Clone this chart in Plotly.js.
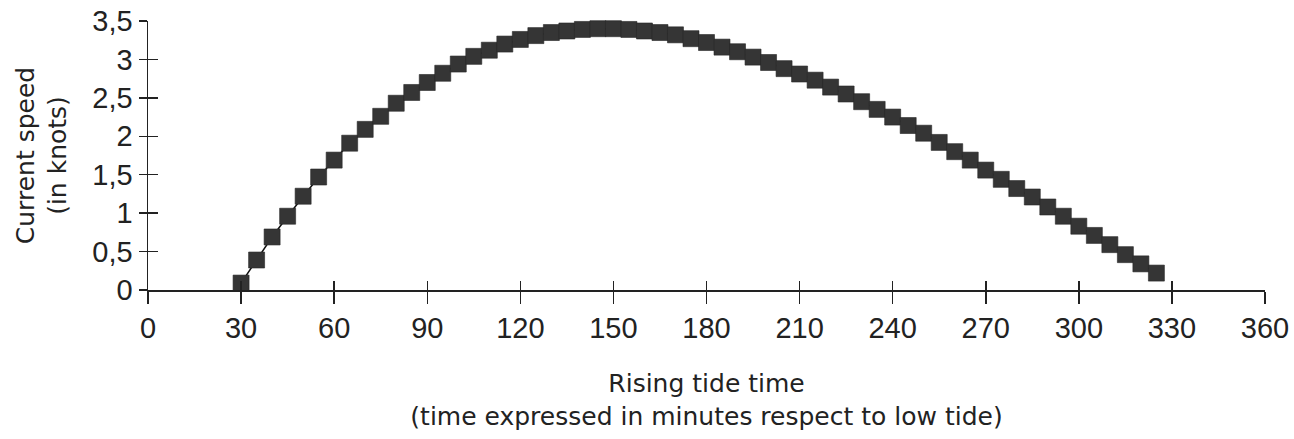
<!DOCTYPE html>
<html>
<head>
<meta charset="utf-8">
<script src="https://cdn.plot.ly/plotly-3.0.1.min.js"></script>
<style>html,body{margin:0;padding:0;background:#fff;}#chart{width:1294px;height:439px;}</style>
</head>
<body>
<div id="chart"></div>
<script>
// Rising tide time (minutes after low tide)
const minutes = [30,35,40,45,50,55,60,65,70,75,80,85,90,95,100,105,110,115,120,125,
  130,135,140,145,150,155,160,165,170,175,180,185,190,195,200,205,210,215,220,225,
  230,235,240,245,250,255,260,265,270,275,280,285,290,295,300,305,310,315,320,325];
// Current speed (knots)
const speed = [0.09,0.39,0.69,0.96,1.22,1.47,1.69,1.91,2.09,2.26,2.43,2.57,2.70,2.82,2.94,3.04,3.12,3.20,3.26,3.31,
  3.35,3.37,3.39,3.40,3.40,3.39,3.37,3.35,3.32,3.27,3.22,3.16,3.10,3.03,2.96,2.88,2.81,2.73,2.64,2.55,
  2.45,2.35,2.25,2.14,2.04,1.92,1.80,1.69,1.56,1.44,1.32,1.21,1.08,0.96,0.83,0.71,0.59,0.46,0.34,0.22];
const xTicks = [0,30,60,90,120,150,180,210,240,270,300,330,360];
const yTicks = [0,0.5,1,1.5,2,2.5,3,3.5];

const xTitle = 'Rising tide time<br>(time expressed in minutes respect to low tide)';
const yTitle = 'Current speed<br>(in knots)';

const tickFont = {family: '"Liberation Sans Narrow", "Liberation Sans", sans-serif', size: 29, color: '#222'};
const titleFont = {family: '"DejaVu Sans", sans-serif', size: 25, color: '#222'};

const traces = [
  {
    x: minutes, y: speed, type: 'scatter', mode: 'lines+markers',
    line: {color: '#111', width: 1.5},
    marker: {symbol: 'square', size: 16, color: '#353535', line: {color: '#262626', width: 0.6}},
    cliponaxis: false, hoverinfo: 'x+y', showlegend: false
  },
  {
    x: minutes, y: speed, type: 'scatter', mode: 'markers',
    xaxis: 'x2', yaxis: 'y2',
    marker: {opacity: 0, size: 1}, hoverinfo: 'skip', showlegend: false
  }
];

const layout = {
  width: 1294, height: 439,
  margin: {l: 148, r: 29, t: 21, b: 149},
  paper_bgcolor: '#fff', plot_bgcolor: '#fff',
  separators: ',.',
  showlegend: false,
  xaxis: {
    range: [0, 360], tickvals: xTicks, ticks: 'outside', ticklen: 12, tickwidth: 1.5, tickcolor: '#222',
    showline: true, linecolor: '#222', linewidth: 1.5, showgrid: false, zeroline: false,
    tickfont: tickFont,
    title: {text: xTitle, font: titleFont, standoff: 31}
  },
  yaxis: {
    range: [0, 3.5], tickvals: yTicks, ticks: 'outside', ticklen: 8, tickwidth: 1.5, tickcolor: '#222',
    showline: true, linecolor: '#222', linewidth: 1.5, showgrid: false, zeroline: false,
    tickfont: tickFont,
    title: {text: yTitle, font: titleFont, standoff: 18}
  },
  xaxis2: {
    overlaying: 'x', anchor: 'y2', range: [0, 360], tickvals: xTicks, ticks: 'inside', ticklen: 9,
    tickwidth: 1.5, tickcolor: '#222', showticklabels: false, showline: false, showgrid: false, zeroline: false
  },
  yaxis2: {
    overlaying: 'y', anchor: 'x2', range: [0, 3.5], tickvals: yTicks, ticks: 'inside', ticklen: 10,
    tickwidth: 1.5, tickcolor: '#222', showticklabels: false, showline: false, showgrid: false, zeroline: false
  }
};

Plotly.newPlot('chart', traces, layout, {displayModeBar: false, staticPlot: true});
</script>
</body>
</html>
